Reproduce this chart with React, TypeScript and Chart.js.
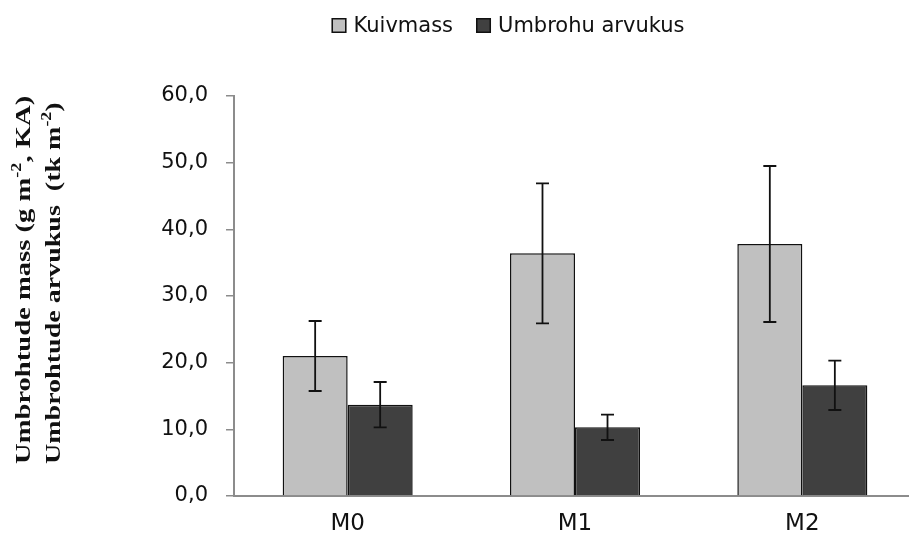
import React, { useEffect, useRef } from 'react';
import { Chart, registerables } from 'chart.js';

Chart.register(...registerables);

const categories = ['M0', 'M1', 'M2'];
const seriesNames = ['Kuivmass', 'Umbrohu arvukus'];
const kuivmass = [21.0, 36.4, 37.8];
const kuivmassErr = [5.25, 10.5, 11.7];
const arvukus = [13.7, 10.3, 16.6];
const arvukusErr = [3.4, 1.9, 3.7];
const yTickLabels = ['0,0', '10,0', '20,0', '30,0', '40,0', '50,0', '60,0'];
const yTitleLines = [
  [{ t: 'Umbrohtude mass (g m' }, { t: '-2', sup: true }, { t: ', KA)' }],
  [{ t: 'Umbrohtude arvukus  (tk m' }, { t: '-2', sup: true }, { t: ')' }],
];

const colors = ['#c0c0c0', '#404040'];
const SANS = '"DejaVu Sans", sans-serif';

const errorBars = {
  id: 'errorBars',
  afterDatasetsDraw(chart: any) {
    const { ctx } = chart;
    const y = chart.scales.y;
    chart.data.datasets.forEach((ds: any, di: number) => {
      const meta = chart.getDatasetMeta(di);
      meta.data.forEach((bar: any, i: number) => {
        const v = ds.data[i];
        const e = ds.errors[i];
        const top = y.getPixelForValue(v + e);
        const bot = y.getPixelForValue(v - e);
        const x = bar.x;
        const cap = 6.5;
        ctx.save();
        ctx.strokeStyle = '#111';
        ctx.lineWidth = 1.8;
        ctx.beginPath();
        ctx.moveTo(x, top);
        ctx.lineTo(x, bot);
        ctx.moveTo(x - cap, top);
        ctx.lineTo(x + cap, top);
        ctx.moveTo(x - cap, bot);
        ctx.lineTo(x + cap, bot);
        ctx.stroke();
        ctx.restore();
      });
    });
  },
};

const customLegend = {
  id: 'customLegend',
  afterDraw(chart: any) {
    const { ctx } = chart;
    const font = `21px ${SANS}`;
    ctx.save();
    ctx.font = font;
    const box = 15;
    const gapBT = 7;
    const gapItem = 23;
    const widths = seriesNames.map((n) => ctx.measureText(n).width);
    const total = widths.reduce((a, w) => a + box + gapBT + w, 0) + gapItem * (seriesNames.length - 1);
    let x = 508 - total / 2;
    const boxTop = 18;
    const baseline = 32;
    seriesNames.forEach((n, i) => {
      ctx.fillStyle = colors[i];
      ctx.fillRect(x, boxTop, box, box);
      ctx.strokeStyle = '#111';
      ctx.lineWidth = 1.5;
      ctx.strokeRect(x + 0.75, boxTop + 0.75, box - 1.5, box - 1.5);
      x += box + gapBT;
      ctx.fillStyle = '#111';
      ctx.textBaseline = 'alphabetic';
      ctx.textAlign = 'left';
      ctx.fillText(n, x, baseline);
      x += widths[i] + gapItem;
    });
    ctx.restore();
  },
};

const yTitle = {
  id: 'yTitle',
  afterDraw(chart: any) {
    const { ctx } = chart;
    const size = 22;
    const stretch = 1.3;
    const baseX = [30, 60];
    const startY = 464;
    yTitleLines.forEach((segs, li) => {
      ctx.save();
      ctx.translate(baseX[li], startY);
      ctx.rotate(-Math.PI / 2);
      ctx.scale(li === 0 ? stretch : stretch * 0.98, 1);
      ctx.fillStyle = '#111';
      ctx.textBaseline = 'alphabetic';
      ctx.textAlign = 'left';
      let x = 0;
      segs.forEach((s: any) => {
        ctx.font = `bold ${s.sup ? Math.round(size * 0.62) : size}px "Liberation Serif", serif`;
        ctx.fillText(s.t, x, s.sup ? -size * 0.4 : 0);
        x += ctx.measureText(s.t).width;
      });
      ctx.restore();
    });
  },
};

export default function App() {
  const ref = useRef<HTMLCanvasElement>(null);

  useEffect(() => {
    if (!ref.current) return;
    const chart = new Chart(ref.current, {
      type: 'bar',
      data: {
        labels: categories,
        datasets: [
          {
            label: seriesNames[0],
            data: kuivmass,
            errors: kuivmassErr,
            backgroundColor: colors[0],
            borderColor: '#111',
            borderWidth: 1.5,
            barPercentage: 1,
            categoryPercentage: 0.572,
          } as any,
          {
            label: seriesNames[1],
            data: arvukus,
            errors: arvukusErr,
            backgroundColor: colors[1],
            borderColor: '#111',
            borderWidth: 1.5,
            barPercentage: 1,
            categoryPercentage: 0.572,
          } as any,
        ],
      },
      options: {
        responsive: false,
        animation: false,
        layout: { padding: { top: 96, left: 0, right: 0, bottom: 0 } },
        plugins: {
          legend: { display: false },
          tooltip: { enabled: false },
        },
        scales: {
          x: {
            grid: { display: false, drawTicks: false },
            border: { display: true, color: '#8c8c8c', width: 2 },
            ticks: { color: '#111', font: { family: SANS, size: 23 }, padding: 14 },
            afterFit: (s: any) => {
              s.height = 47;
            },
          },
          y: {
            min: 0,
            max: 60,
            ticks: {
              stepSize: 10,
              color: '#111',
              font: { family: SANS, size: 21 },
              padding: 18,
              callback: (_v: any, i: number) => yTickLabels[i],
            },
            grid: { drawOnChartArea: false, drawTicks: true, tickLength: 8, color: '#8c8c8c', lineWidth: 1.5 },
            border: { display: true, color: '#8c8c8c', width: 2 },
            afterFit: (s: any) => {
              s.width = 234;
            },
          },
        },
      },
      plugins: [errorBars, customLegend, yTitle],
    });
    return () => chart.destroy();
  }, []);

  return (
    <div style={{ position: 'fixed', left: 0, top: 0, width: 909, height: 543, overflow: 'hidden', background: '#fff' }}>
      <canvas ref={ref} width={916} height={543} style={{ display: 'block' }} />
    </div>
  );
}
